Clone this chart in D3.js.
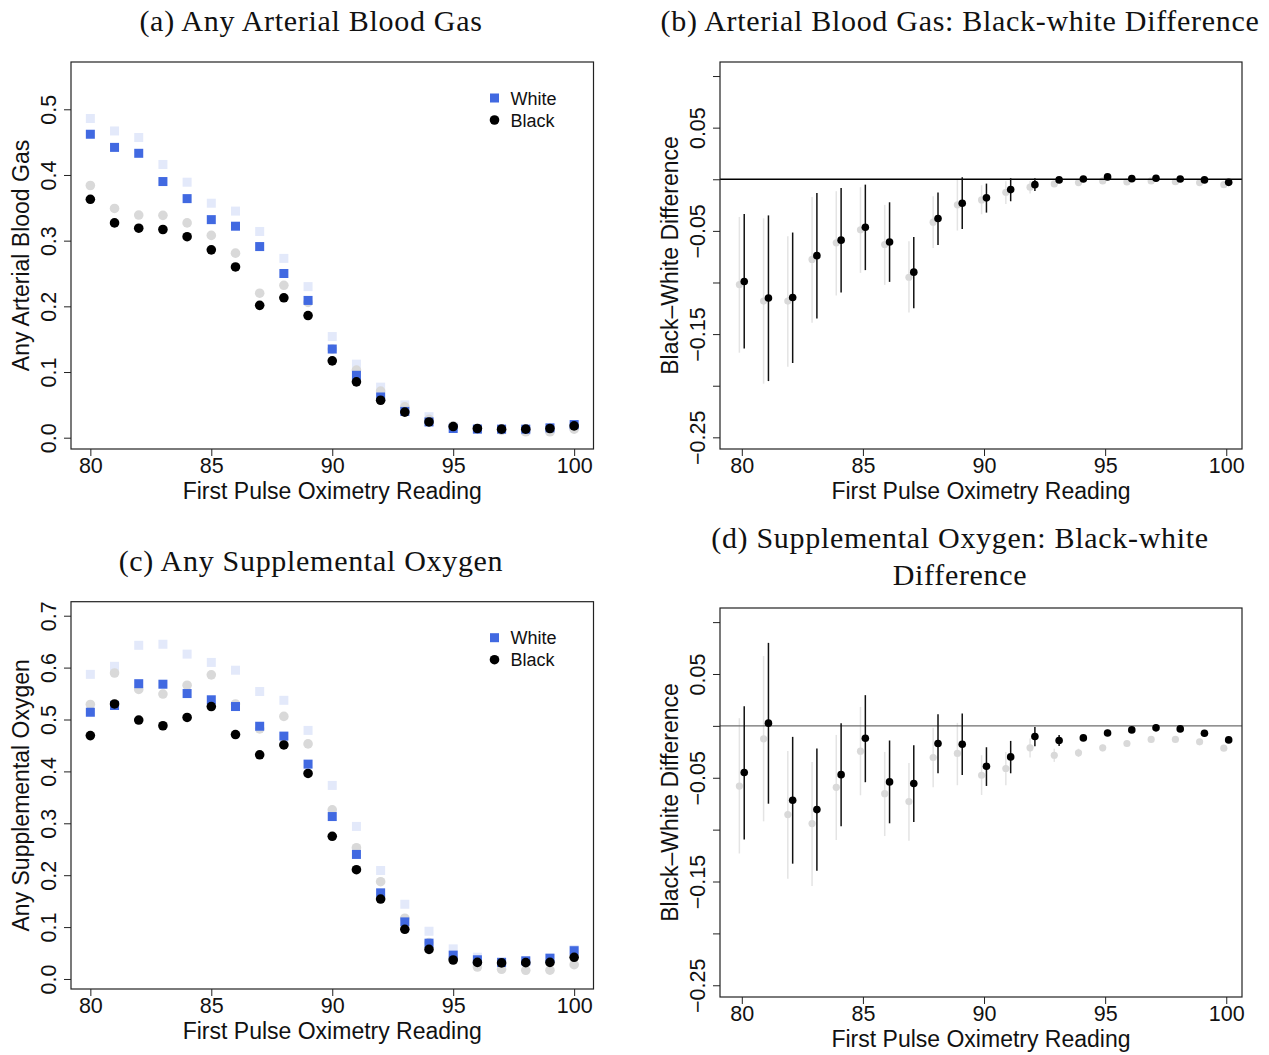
<!DOCTYPE html>
<html>
<head>
<meta charset="utf-8">
<script src="https://cdn.jsdelivr.net/npm/d3@7"></script>
<style>
  body { margin: 0; background: #fff; }
  svg text { font-family: "Liberation Sans", Arial, sans-serif; }
  svg text.title { font-family: "Liberation Serif", "DejaVu Serif", serif; letter-spacing: 0.7px; }
</style>
</head>
<body>
<svg id="fig" width="1269" height="1055"></svg>
<script>
// first pulse oximetry reading
const readings = [80, 81, 82, 83, 84, 85, 86, 87, 88, 89, 90, 91, 92, 93, 94, 95, 96, 97, 98, 99, 100];

// (a) any arterial blood gas
const abgWhite    = [0.462, 0.442, 0.433, 0.390, 0.364, 0.332, 0.322, 0.291, 0.250, 0.209, 0.135, 0.095, 0.062, 0.040, 0.024, 0.014, 0.013, 0.013, 0.013, 0.015, 0.020];
const abgWhiteAlt = [0.486, 0.467, 0.457, 0.416, 0.389, 0.357, 0.345, 0.314, 0.273, 0.230, 0.154, 0.112, 0.077, 0.050, 0.032, 0.017, 0.014, 0.013, 0.011, 0.012, 0.017];
const abgBlack    = [0.363, 0.327, 0.319, 0.317, 0.306, 0.286, 0.260, 0.2015, 0.213, 0.186, 0.117, 0.085, 0.057, 0.039, 0.024, 0.017, 0.014, 0.013, 0.013, 0.014, 0.018];
const abgBlackAlt = [0.384, 0.349, 0.339, 0.3385, 0.327, 0.308, 0.281, 0.220, 0.232, 0.206, 0.135, 0.103, 0.071, 0.047, 0.028, 0.018, 0.014, 0.011, 0.009, 0.009, 0.013];

// (c) any supplemental oxygen
const oxyWhite    = [0.514, 0.527, 0.569, 0.568, 0.550, 0.538, 0.525, 0.487, 0.468, 0.414, 0.313, 0.240, 0.166, 0.110, 0.069, 0.046, 0.037, 0.032, 0.035, 0.040, 0.0545];
const oxyWhiteAlt = [0.587, 0.6025, 0.643, 0.645, 0.626, 0.610, 0.595, 0.554, 0.537, 0.479, 0.373, 0.294, 0.209, 0.144, 0.092, 0.058, 0.042, 0.033, 0.035, 0.041, 0.057];
const oxyBlack    = [0.469, 0.530, 0.499, 0.488, 0.504, 0.525, 0.471, 0.432, 0.451, 0.396, 0.275, 0.2106, 0.154, 0.0957, 0.057, 0.0366, 0.032, 0.031, 0.0315, 0.032, 0.0418];
const oxyBlackAlt = [0.529, 0.5896, 0.558, 0.549, 0.566, 0.586, 0.530, 0.482, 0.506, 0.453, 0.326, 0.253, 0.1875, 0.117, 0.070, 0.041, 0.023, 0.0187, 0.0167, 0.017, 0.0276];

// (b) black-white difference, arterial blood gas
const abgDiff      = [-0.099, -0.115, -0.1145, -0.074, -0.059, -0.0465, -0.0607, -0.090, -0.038, -0.0232, -0.018, -0.010, -0.0052, -0.0006, 0.0003, 0.0023, 0.0006, 0.001, 0.0003, -0.0006, -0.003];
const abgDiffLo    = [-0.164, -0.1955, -0.178, -0.135, -0.1097, -0.088, -0.0994, -0.125, -0.0636, -0.0481, -0.0323, -0.0213, -0.0113, -0.003, -0.0017, 0.0003, -0.0014, -0.001, -0.0017, -0.0026, -0.005];
const abgDiffHi    = [-0.0336, -0.035, -0.0516, -0.0133, -0.0084, -0.0052, -0.0223, -0.056, -0.0129, 0.0019, -0.0042, 0.001, 0.001, 0.0018, 0.0023, 0.0043, 0.0026, 0.003, 0.0023, 0.0014, -0.001];
const abgDiffAlt   = [-0.102, -0.118, -0.118, -0.0777, -0.0616, -0.049, -0.0632, -0.0949, -0.0416, -0.0248, -0.020, -0.0126, -0.0077, -0.0045, -0.0032, -0.0016, -0.0026, -0.0016, -0.0023, -0.0032, -0.0052];
const abgDiffAltLo = [-0.168, -0.198, -0.1817, -0.139, -0.1126, -0.0907, -0.1023, -0.129, -0.0665, -0.0497, -0.0339, -0.0239, -0.0138, -0.0065, -0.0052, -0.0036, -0.0046, -0.0036, -0.0043, -0.0052, -0.0072];
const abgDiffAltHi = [-0.0365, -0.0378, -0.0552, -0.0171, -0.0116, -0.0077, -0.0248, -0.060, -0.0165, 0, -0.0058, -0.0019, -0.0016, -0.0025, -0.0012, 0.0004, -0.0006, 0.0004, -0.0003, -0.0012, -0.0032];

// (d) black-white difference, supplemental oxygen
const oxyDiff      = [-0.045, 0.0026, -0.0717, -0.0807, -0.047, -0.0119, -0.054, -0.0556, -0.017, -0.0177, -0.0389, -0.0299, -0.0103, -0.0141, -0.0116, -0.0068, -0.0039, -0.0019, -0.0029, -0.0071, -0.0135];
const oxyDiffLo    = [-0.1094, -0.075, -0.1328, -0.1396, -0.0968, -0.0543, -0.0939, -0.0927, -0.0457, -0.0473, -0.0579, -0.0457, -0.0196, -0.0193, -0.0146, -0.0098, -0.0069, -0.0049, -0.0059, -0.0101, -0.0165];
const oxyDiffHi    = [0.019, 0.080, -0.0106, -0.0218, 0.0026, 0.0296, -0.0141, -0.0186, 0.0113, 0.012, -0.0206, -0.0145, -0.001, -0.0089, -0.0086, -0.0038, -0.0009, 0.0011, 0.0001, -0.0041, -0.0105];
const oxyDiffAlt   = [-0.058, -0.0125, -0.0855, -0.0942, -0.0592, -0.0244, -0.0653, -0.073, -0.0305, -0.0266, -0.0476, -0.0411, -0.0212, -0.0283, -0.026, -0.0212, -0.017, -0.0131, -0.0131, -0.0154, -0.0215];
const oxyDiffAltLo = [-0.123, -0.092, -0.1473, -0.1544, -0.110, -0.0669, -0.1062, -0.1106, -0.0592, -0.0572, -0.0666, -0.0572, -0.0305, -0.0347, -0.030, -0.0245, -0.0195, -0.0155, -0.0155, -0.018, -0.024];
const oxyDiffAltHi = [0.0074, 0.0673, -0.0241, -0.0347, -0.0087, 0.0183, -0.0251, -0.0357, -0.0019, 0.0029, -0.0283, -0.0251, -0.0122, -0.022, -0.022, -0.018, -0.0145, -0.0107, -0.0107, -0.013, -0.019];

const xTicks = [80, 85, 90, 95, 100];
const levelTicksA = [0, 0.1, 0.2, 0.3, 0.4, 0.5];
const levelTicksC = [0, 0.1, 0.2, 0.3, 0.4, 0.5, 0.6, 0.7];
const diffTicks = [-0.25, -0.2, -0.15, -0.1, -0.05, 0, 0.05, 0.1];
const diffLabels = [-0.25, -0.15, -0.05, 0.05];
const legendLabels = ["White", "Black"];

const svg = d3.select("#fig");
const BLUE = "#4169e1", LIGHTBLUE = "#e3e9fa", LIGHTGRAY = "#d9d9d9";
const fmtMinus = v => d3.format(".2f")(v).replace("-", "\u2212");

function frame(g, x, y, yTicks, yLabels, yFmt, yTitle, box) {
    g.append("rect")
        .attr("x", box.x0).attr("y", box.y0)
        .attr("width", box.x1 - box.x0).attr("height", box.y1 - box.y0)
        .attr("fill", "none").attr("stroke", "#222").attr("stroke-width", 1.2);

    // x axis, R style: no domain line, box does the job
    const gx = g.append("g").attr("transform", `translate(0,${box.y1})`)
        .call(d3.axisBottom(x).tickValues(xTicks).tickSize(7).tickPadding(2).tickFormat(d3.format("d")));
    gx.select(".domain").remove();
    gx.selectAll("line").attr("stroke", "#222");
    gx.selectAll("text").attr("font-size", 21.5).attr("fill", "#111");

    const gy = g.append("g").attr("transform", `translate(${box.x0},0)`)
        .call(d3.axisLeft(y).tickValues(yTicks).tickSize(7)
            .tickFormat(d => yLabels.some(l => Math.abs(l - d) < 1e-9) ? yFmt(d) : ""));
    gy.select(".domain").remove();
    gy.selectAll("line").attr("stroke", "#222");
    // labels parallel to the axis
    gy.selectAll("text")
        .attr("font-size", 21.5).attr("fill", "#111")
        .attr("text-anchor", "middle")
        .attr("x", null).attr("dy", null).attr("y", 0)
        .attr("transform", "translate(-15,0) rotate(-90)");

    g.append("text")
        .attr("x", (box.x0 + box.x1) / 2).attr("y", box.y1 + 50)
        .attr("text-anchor", "middle").attr("font-size", 23).attr("fill", "#111")
        .text("First Pulse Oximetry Reading");

    g.append("text")
        .attr("transform", `translate(${box.x0 - 42},${(box.y0 + box.y1) / 2}) rotate(-90)`)
        .attr("text-anchor", "middle").attr("font-size", 23).attr("fill", "#111")
        .text(yTitle);
}

function levelPanel(box, yDomain, yTicks, yTitle, white, whiteAlt, black, blackAlt) {
    const g = svg.append("g");
    const x = d3.scaleLinear().domain([79.2, 100.8]).range([box.x0, box.x1]);
    const y = d3.scaleLinear().domain(yDomain).range([box.y1, box.y0]);
    const s = 9;

    const squares = (vals, fill) => g.append("g").selectAll("rect")
        .data(readings).join("rect")
        .attr("x", d => x(d) - s / 2).attr("y", (d, i) => y(vals[i]) - s / 2)
        .attr("width", s).attr("height", s).attr("fill", fill);
    const circles = (vals, fill) => g.append("g").selectAll("circle")
        .data(readings).join("circle")
        .attr("cx", d => x(d)).attr("cy", (d, i) => y(vals[i]))
        .attr("r", 4.8).attr("fill", fill);

    squares(whiteAlt, LIGHTBLUE);
    circles(blackAlt, LIGHTGRAY);
    squares(white, BLUE);
    circles(black, "#000");

    frame(g, x, y, yTicks, yTicks, d3.format(".1f"), yTitle, box);

    // legend
    const lg = g.append("g").attr("transform", `translate(${box.x1 - 99},${box.y0 + 36})`);
    lg.append("rect").attr("x", -4.5).attr("y", -4.5).attr("width", 9).attr("height", 9).attr("fill", BLUE);
    lg.append("circle").attr("cx", 0).attr("cy", 22).attr("r", 4.8).attr("fill", "#000");
    lg.selectAll("text").data(legendLabels).join("text")
        .attr("x", 16).attr("y", (d, i) => i * 22 + 6.5)
        .attr("font-size", 18).attr("fill", "#111").text(d => d);
}

function diffPanel(box, zeroColor, est, lo, hi, estAlt, loAlt, hiAlt) {
    const g = svg.append("g");
    const x = d3.scaleLinear().domain([79.1, 100.65]).range([box.x0, box.x1]);
    const y = d3.scaleLinear().domain([-0.2613, 0.1136]).range([box.y1, box.y0]);

    // alternative estimate, shifted left
    g.append("g").selectAll("line").data(readings).join("line")
        .attr("x1", d => x(d - 0.1)).attr("x2", d => x(d - 0.1))
        .attr("y1", (d, i) => y(loAlt[i])).attr("y2", (d, i) => y(hiAlt[i]))
        .attr("stroke", "#e4e4e4").attr("stroke-width", 1.5);
    g.append("g").selectAll("circle").data(readings).join("circle")
        .attr("cx", d => x(d - 0.1)).attr("cy", (d, i) => y(estAlt[i]))
        .attr("r", 3.6).attr("fill", LIGHTGRAY);

    g.append("line")
        .attr("x1", box.x0).attr("x2", box.x1).attr("y1", y(0)).attr("y2", y(0))
        .attr("stroke", zeroColor).attr("stroke-width", 1.3);

    // main estimate, shifted right
    g.append("g").selectAll("line").data(readings).join("line")
        .attr("x1", d => x(d + 0.1)).attr("x2", d => x(d + 0.1))
        .attr("y1", (d, i) => y(lo[i])).attr("y2", (d, i) => y(hi[i]))
        .attr("stroke", "#111").attr("stroke-width", 1.5);
    g.append("g").selectAll("circle").data(readings).join("circle")
        .attr("cx", d => x(d + 0.1)).attr("cy", (d, i) => y(est[i]))
        .attr("r", 3.8).attr("fill", "#000");

    frame(g, x, y, diffTicks, diffLabels, fmtMinus, "Black\u2013White Difference", box);
}

levelPanel({x0: 71, x1: 593.5, y0: 62, y1: 449}, [-0.0172, 0.572], levelTicksA,
    "Any Arterial Blood Gas", abgWhite, abgWhiteAlt, abgBlack, abgBlackAlt);
levelPanel({x0: 71, x1: 593.5, y0: 601.7, y1: 989}, [-0.0193, 0.727], levelTicksC,
    "Any Supplemental Oxygen", oxyWhite, oxyWhiteAlt, oxyBlack, oxyBlackAlt);
diffPanel({x0: 720, x1: 1242, y0: 62, y1: 449}, "#000",
    abgDiff, abgDiffLo, abgDiffHi, abgDiffAlt, abgDiffAltLo, abgDiffAltHi);
diffPanel({x0: 720, x1: 1242, y0: 608, y1: 997}, "#6e6e6e",
    oxyDiff, oxyDiffLo, oxyDiffHi, oxyDiffAlt, oxyDiffAltLo, oxyDiffAltHi);

// panel titles
const titles = [
    {t: "(a) Any Arterial Blood Gas", x: 311, y: 31},
    {t: "(b) Arterial Blood Gas: Black-white Difference", x: 960, y: 31},
    {t: "(c) Any Supplemental Oxygen", x: 311, y: 571},
    {t: "(d) Supplemental Oxygen: Black-white", x: 960, y: 548},
    {t: "Difference", x: 960, y: 585}
];
svg.selectAll("text.title").data(titles).join("text")
    .attr("class", "title")
    .attr("x", d => d.x).attr("y", d => d.y)
    .attr("text-anchor", "middle").attr("font-size", 30).attr("fill", "#111")
    .text(d => d.t);
</script>
</body>
</html>
